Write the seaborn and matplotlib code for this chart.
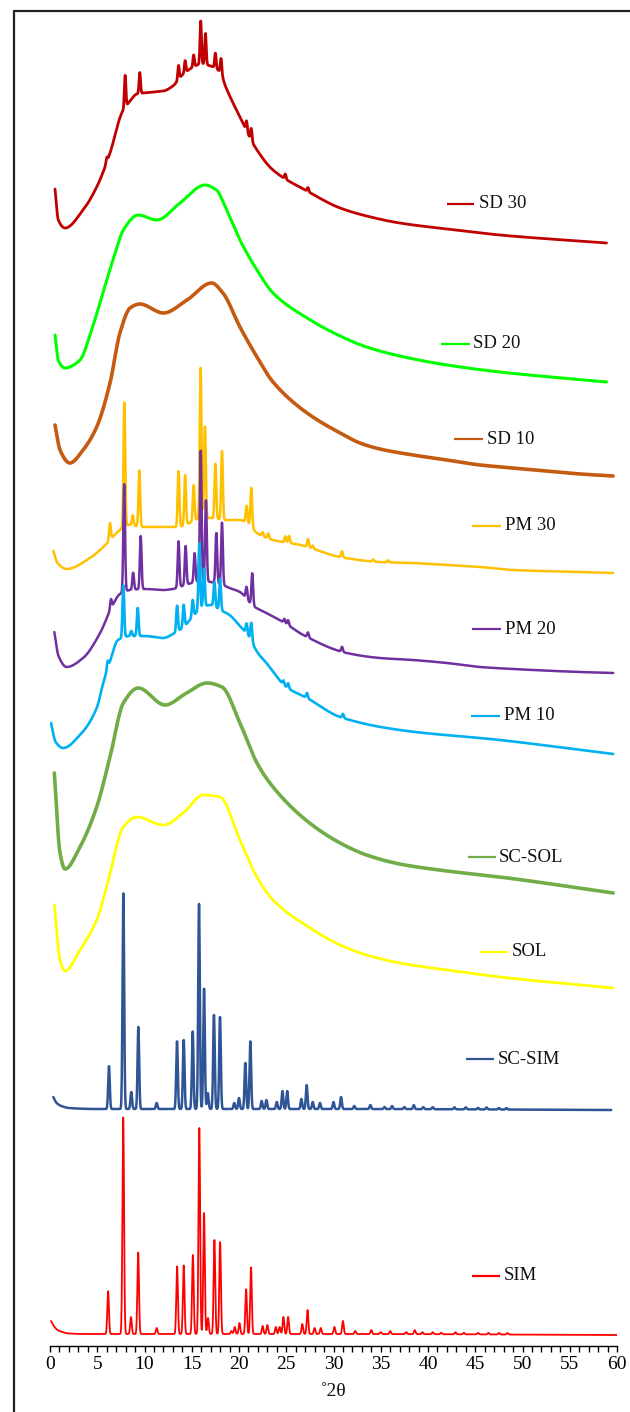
import numpy as np
import pandas as pd
import matplotlib
matplotlib.use("Agg")
import matplotlib.pyplot as plt
import seaborn as sns
from matplotlib.lines import Line2D
from matplotlib.ticker import MultipleLocator

sns.set_theme(style="white")
plt.rcParams['font.family'] = ['Liberation Serif', 'DejaVu Serif']

# ---------------- data (2theta in degrees, intensity in stacked a.u.) ----------------
names = ["SD 30", "SD 20", "SD 10", "PM 30", "PM 20", "PM 10", "SC-SOL", "SOL", "SC-SIM", "SIM"]
colors = ["#C00000", "#00FF00", "#C55A11", "#FFC000", "#7030A0", "#00B0F0",
          "#70AD47", "#FFFF00", "#2F5597", "#FF0000"]

sd30_bg_x = [0.53, 0.88, 1.6, 3.5, 4.94, 6.35, 7.6, 8.3, 9.2, 11, 12, 13, 14, 15, 16, 17, 18, 18.6,
             20.1, 21.7, 23.6, 27.2, 30.7, 33.5, 37, 42, 47.6, 58.9]
sd30_bg_y = [1157, 1126, 1118, 1136, 1159, 1193, 1233, 1243, 1252, 1254, 1255, 1260, 1271, 1278, 1282,
             1280, 1274, 1259, 1229, 1199, 1176, 1155, 1138, 1130, 1123, 1117, 1111, 1103]
sd30_pk_x = [6.0, 7.95, 9.5, 13.6, 14.3, 15.2, 15.95, 16.45, 17.5, 18.1, 20.8, 21.3, 24.9, 27.3]
sd30_pk_h = [5, 32, 21, 14, 12, 12, 43, 31, 15, 15, 10, 12, 5, 4]

sd20_bg_x = [0.53, 0.9, 1.6, 3.17, 4.4, 6.0, 6.9, 7.76, 9.34, 11.3, 13.76, 16.4, 17.6, 18.7, 20.1,
             21.9, 23.6, 27.2, 30.7, 33.5, 37.0, 42, 47.6, 58.9]
sd20_bg_y = [1011, 985, 978, 986, 1016, 1066, 1093, 1116, 1131, 1126, 1143, 1161, 1156, 1136, 1106,
             1076, 1053, 1028, 1010, 999, 990, 981, 974, 964]
sd20_pk_x = []
sd20_pk_h = []

sd10_bg_x = [0.53, 1.06, 2.1, 3.5, 4.94, 6.35, 7.4, 8.47, 9.5, 12.0, 14.5, 17.1, 18.3, 20.1, 21.9,
             23.6, 27.2, 30.7, 32.8, 34.9, 38.4, 42, 45.5, 49, 56.1, 59.6]
sd10_bg_y = [921, 896, 883, 896, 919, 963, 1013, 1038, 1042, 1033, 1046, 1063, 1053, 1019, 989,
             964, 933, 913, 903, 897, 891, 886, 881, 878, 872, 870]
sd10_pk_x = []
sd10_pk_h = []

pm30_bg_x = [0.35, 0.8, 1.76, 4.23, 5.64, 7.4, 8.3, 10, 13.5, 15, 16, 17, 18.5, 20.1, 21.0, 21.9,
             23.6, 26.5, 30.7, 34.9, 38.4, 42, 45.5, 49, 56.1, 59.6]
pm30_bg_y = [795, 783, 777, 788, 799, 816, 821, 819, 819, 824, 828, 828, 826, 826, 822, 813,
             806, 801, 789, 784, 783, 781, 779, 776, 774, 773]
pm30_pk_x = [6.35, 7.87, 8.75, 9.45, 13.6, 14.3, 15.2, 15.94, 16.4, 17.5, 18.2, 20.8, 21.3, 22.5,
             23.1, 24.9, 25.3, 27.3, 27.8, 30.9, 34.2, 35.8]
pm30_pk_h = [17, 124, 10, 56, 56, 50, 36, 151, 92, 55, 69, 17, 39, 4, 5, 6, 7, 8, 3, 6, 2, 2]

pm20_bg_x = [0.46, 0.9, 1.76, 3.5, 5.3, 6.35, 7.4, 8.5, 10, 12, 13, 14, 15, 16, 17, 18, 19, 20.1,
             21.5, 22.9, 25, 26.8, 31.4, 34.9, 38.4, 42, 45.5, 49, 56.1, 59.6]
pm20_bg_y = [714, 690, 679, 688, 713, 735, 752, 756, 757, 756, 757, 760, 763, 765, 764, 762, 758,
             754, 740, 733, 722, 711, 693, 688, 686, 683, 679, 677, 674, 673]
pm20_pk_x = [6.45, 7.85, 8.8, 9.6, 13.6, 14.35, 15.3, 15.95, 16.5, 17.6, 18.2, 20.8, 21.4, 24.8,
             25.2, 27.3, 30.9]
pm20_pk_h = [10, 108, 17, 53, 46, 39, 29, 131, 81, 50, 62, 12, 32, 4, 5, 5, 5]

pm10_bg_x = [0.1, 0.6, 1.4, 3.17, 4.94, 5.64, 6.17, 7.2, 8.5, 10, 12, 13, 14, 15, 16, 17, 18, 19,
             20, 21, 22, 22.9, 25, 27.2, 30.7, 37, 47.6, 59.6]
pm10_bg_y = [623, 604, 598, 611, 638, 663, 679, 706, 710, 710, 708, 712, 718, 728, 738, 741, 736,
             731, 721, 710, 693, 683, 659, 648, 629, 616, 606, 592]
pm10_pk_x = [6.1, 7.76, 8.6, 9.28, 13.45, 14.15, 15.1, 15.8, 16.3, 17.4, 18.0, 20.8, 21.3, 24.7,
             25.2, 27.2, 31.0]
pm10_pk_h = [8, 52, 5, 28, 26, 22, 17, 66, 38, 24, 31, 10, 18, 4, 5, 5, 4]

scsol_bg_x = [0.46, 1.06, 1.59, 3.17, 4.94, 6.35, 7.76, 9.34, 12.17, 14.46, 16.6, 18.2, 20.1, 21.9,
              23.6, 27.2, 30.7, 33.5, 37.0, 42, 47.6, 59.6]
scsol_bg_y = [573, 493, 477, 499, 539, 589, 643, 658, 641, 653, 663, 659, 623, 583, 559, 525, 503,
              491, 482, 475, 469, 453]
scsol_pk_x = []
scsol_pk_h = []

sol_bg_x = [0.46, 1.06, 1.59, 3.17, 4.94, 6.0, 7.76, 9.17, 12.0, 14.1, 16.2, 18.0, 20.1, 21.9, 23.6,
            27.2, 30.7, 33.5, 37.0, 42, 47.6, 59.6]
sol_bg_y = [441, 386, 375, 396, 426, 459, 519, 529, 521, 533, 551, 549, 506, 469, 446, 420, 401,
            391, 383, 376, 369, 358]
sol_pk_x = []
sol_pk_h = []

scsim_bg_x = [0.35, 0.7, 1.2, 2.0, 5.0, 30, 59.4]
scsim_bg_y = [249, 243, 240, 238, 237, 237, 236]
scsim_pk_x = [6.24, 7.76, 8.6, 9.35, 11.29, 13.44, 14.15, 15.1, 15.77, 16.3, 16.7, 17.35, 17.99,
              19.5, 20.0, 20.67, 21.2, 22.4, 22.9, 24.0, 24.6, 25.1, 26.6, 27.16, 27.8, 28.57, 30.0,
              30.8, 32.2, 33.9, 35.4, 36.2, 37.5, 38.5, 39.5, 40.5, 42.8, 44.0, 45.3, 46.2, 47.5, 48.3]
scsim_pk_h = [43, 217, 17, 82, 6, 68, 69, 78, 205, 121, 16, 94, 92, 6, 11, 46, 68, 8, 9, 7, 18, 18,
              10, 24, 7, 6, 7, 12, 3, 4, 2, 3, 2, 4, 2, 2, 2, 2, 1.5, 2, 1.5, 1.5]

sim_bg_x = [0.1, 0.4, 0.8, 1.3, 2.0, 4.0, 30, 60]
sim_bg_y = [25, 20, 16, 14, 12.5, 12, 12, 11]
sim_pk_x = [6.15, 7.75, 8.57, 9.33, 11.29, 13.45, 14.15, 15.12, 15.8, 16.3, 16.72, 17.4, 18.0, 19.2,
            19.55, 20.05, 20.75, 21.27, 22.5, 23.0, 23.9, 24.3, 24.7, 25.2, 26.7, 27.25, 28.0, 28.65,
            30.1, 31.0, 32.3, 34.0, 35.0, 36.0, 37.7, 38.6, 39.4, 40.5, 41.4, 42.9, 43.8, 45.3, 46.4,
            47.5, 48.4]
sim_pk_h = [43, 218, 17, 82, 6, 68, 69, 79, 206, 121, 16, 94, 92, 3, 7, 11, 45, 67, 8, 9, 7, 7, 17,
            17, 10, 24, 6, 6, 7, 13, 3, 4, 2, 3, 2, 4, 2, 2, 1.5, 2, 1.5, 1.5, 1.5, 1.5, 1.5]

# label placement (segment start/end in 2theta, level, text start)
label_seg_x0 = [42.0, 41.4, 42.8, 44.7, 44.7, 44.6, 44.2, 45.5, 44.0, 44.7]
label_seg_x1 = [44.9, 44.4, 45.85, 47.7, 47.7, 47.6, 47.2, 48.5, 47.0, 47.6]
label_level = [1142, 1002, 907, 820, 717, 630, 489, 394, 287, 70]
label_text_x = [45.4, 44.8, 46.2, 48.1, 48.1, 48.0, 47.5, 48.9, 47.4, 48.0]

series = [
    (sd30_bg_x, sd30_bg_y, sd30_pk_x, sd30_pk_h, 0.08, 2.0),
    (sd20_bg_x, sd20_bg_y, sd20_pk_x, sd20_pk_h, 0.08, 2.2),
    (sd10_bg_x, sd10_bg_y, sd10_pk_x, sd10_pk_h, 0.08, 2.6),
    (pm30_bg_x, pm30_bg_y, pm30_pk_x, pm30_pk_h, 0.09, 1.8),
    (pm20_bg_x, pm20_bg_y, pm20_pk_x, pm20_pk_h, 0.09, 1.8),
    (pm10_bg_x, pm10_bg_y, pm10_pk_x, pm10_pk_h, 0.09, 1.9),
    (scsol_bg_x, scsol_bg_y, scsol_pk_x, scsol_pk_h, 0.08, 2.6),
    (sol_bg_x, sol_bg_y, sol_pk_x, sol_pk_h, 0.08, 2.0),
    (scsim_bg_x, scsim_bg_y, scsim_pk_x, scsim_pk_h, 0.085, 1.8),
    (sim_bg_x, sim_bg_y, sim_pk_x, sim_pk_h, 0.085, 1.3),
]


def pchip(xk, yk, x):
    """Shape-preserving piecewise cubic through the read-off background points."""
    xk = np.asarray(xk, float)
    yk = np.asarray(yk, float)
    h = np.diff(xk)
    d = np.diff(yk) / h
    n = len(xk)
    m = np.zeros(n)
    for k in range(1, n - 1):
        if d[k - 1] * d[k] > 0:
            w1 = 2 * h[k] + h[k - 1]
            w2 = h[k] + 2 * h[k - 1]
            m[k] = (w1 + w2) / (w1 / d[k - 1] + w2 / d[k])
    m[0] = d[0]
    m[-1] = d[-1]
    idx = np.clip(np.searchsorted(xk, x) - 1, 0, n - 2)
    t = (x - xk[idx]) / h[idx]
    h00 = 2 * t**3 - 3 * t**2 + 1
    h10 = t**3 - 2 * t**2 + t
    h01 = -2 * t**3 + 3 * t**2
    h11 = t**3 - t**2
    return (h00 * yk[idx] + h10 * h[idx] * m[idx] + h01 * yk[idx + 1] + h11 * h[idx] * m[idx + 1])


def build(bg_x, bg_y, pk_x, pk_h, sigma):
    x = np.arange(bg_x[0], bg_x[-1] + 1e-9, 0.02)
    y = pchip(bg_x, bg_y, x)
    for p, hh in zip(pk_x, pk_h):
        y = y + hh * np.exp(-0.5 * ((x - p) / sigma) ** 2)
    return x, y


frames = []
for name, (bx, by, px, ph, sg, lw) in zip(names, series):
    x, y = build(bx, by, px, ph, sg)
    frames.append(pd.DataFrame({"two_theta": x, "intensity": y, "sample": name}))
df = pd.concat(frames, ignore_index=True)

W, H = 630, 1412
fig = plt.figure(figsize=(W / 100, H / 100), dpi=100)
ax = fig.add_axes([50 / W, 66 / H, 567 / W, 1336 / H])

for name, col, (bx, by, px, ph, sg, lw) in zip(names, colors, series):
    sub = df[df["sample"] == name]
    sns.lineplot(data=sub, x="two_theta", y="intensity", color=col, linewidth=lw,
                 sort=False, estimator=None, ax=ax, legend=False)

for name, col, x0, x1, lv, tx in zip(names, colors, label_seg_x0, label_seg_x1, label_level, label_text_x):
    ax.plot([x0, x1], [lv, lv], color=col, linewidth=1.6, solid_capstyle="butt")
    ax.text(tx, lv, name, fontsize=13.5, color="#111111", va="center", ha="left")

ax.set_xlim(0, 60)
ax.set_ylim(0, 1336)
ax.set_yticks([])
ax.set_xticks(range(0, 61, 5))
ax.xaxis.set_minor_locator(MultipleLocator(1))
ax.tick_params(axis="x", which="both", bottom=True, direction="out", length=4.5, width=1.0,
               colors="black", labelsize=14, pad=3)
for s in ["left", "right", "top"]:
    ax.spines[s].set_visible(False)
ax.spines["bottom"].set_color("black")
ax.spines["bottom"].set_linewidth(1.0)
ax.set_xlabel("˚2θ", fontsize=14, color="#111111", labelpad=7)
ax.set_ylabel("")
ax.set_facecolor("white")

# figure frame (left and top edges)
fx = 13.5 / W
fy = 1 - 10.5 / H
fig.add_artist(Line2D([fx, fx], [0, fy], transform=fig.transFigure, color="#222222", linewidth=1.6))
fig.add_artist(Line2D([fx, 1], [fy, fy], transform=fig.transFigure, color="#222222", linewidth=1.6))

fig.savefig("out.png", dpi=100, facecolor="white")
